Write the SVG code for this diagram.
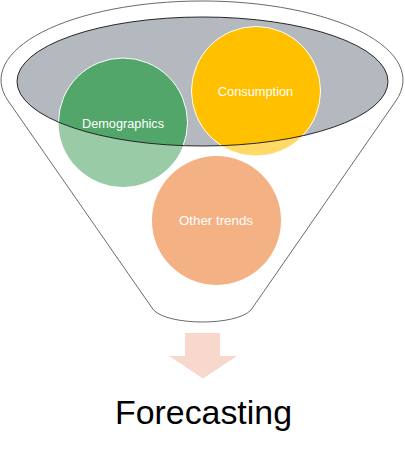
<svg xmlns="http://www.w3.org/2000/svg" width="405" height="458" viewBox="0 0 405 458">
  <style>
    .outline { fill: #ffffff; stroke: #595959; stroke-width: 0.9; }
    .rim { fill: #b4b9c0; }
    .rim-edge { fill: none; stroke: #262626; stroke-width: 1; }
    .ring { stroke: #ffffff; stroke-width: 1; }
    .label { font-family: "Liberation Sans", Arial, sans-serif; font-size: 12.5px; fill: #ffffff; text-anchor: middle; }
    .title { font-family: "Liberation Sans", Arial, sans-serif; font-size: 33px; fill: #000000; text-anchor: middle; }
  </style>
  <defs>
    <clipPath id="rim-clip">
      <ellipse cx="202.5" cy="81.5" rx="185.5" ry="64.5"/>
    </clipPath>
  </defs>

  <!-- funnel body -->
  <g id="funnel">
    <path class="outline" d="M8.1,100.8 A201,79 0 1 1 395.9,100.8 L251,310 C236,326 169,326 153.5,310 Z"/>
  </g>

  <!-- funnel opening -->
  <g id="rim">
    <ellipse class="rim" cx="202.5" cy="81.5" rx="185.5" ry="64.5"/>
  </g>

  <g id="demographics">
    <circle cx="123" cy="122.5" r="64.5" fill="#98cba6"/>
    <circle class="ring" cx="123" cy="122.5" r="64.5" fill="#52a66a" clip-path="url(#rim-clip)"/>
    <text class="label" x="123" y="128" textLength="82" lengthAdjust="spacingAndGlyphs">Demographics</text>
  </g>

  <g id="consumption">
    <circle cx="256" cy="91" r="64.5" fill="#ffd966"/>
    <circle class="ring" cx="256" cy="91" r="64.5" fill="#ffc000" clip-path="url(#rim-clip)"/>
    <text class="label" x="255.5" y="96" textLength="75.5" lengthAdjust="spacingAndGlyphs">Consumption</text>
  </g>

  <g id="other-trends">
    <circle cx="216.5" cy="220.5" r="64.5" fill="#f4b183"/>
    <text class="label" x="216" y="224.5" textLength="74" lengthAdjust="spacingAndGlyphs">Other trends</text>
  </g>

  <!-- rim outline sits above the circles -->
  <g id="rim-outline">
    <ellipse class="rim-edge" cx="202.5" cy="81.5" rx="185.5" ry="64.5"/>
  </g>

  <g id="connectors">
    <path d="M185,333 L220,333 L220,356 L237,356 L203,378.5 L169,356 L185,356 Z" fill="#f8d7cc"/>
  </g>

  <g id="forecasting">
    <text class="title" x="203.5" y="423.5" textLength="177" lengthAdjust="spacingAndGlyphs">Forecasting</text>
  </g>
</svg>
